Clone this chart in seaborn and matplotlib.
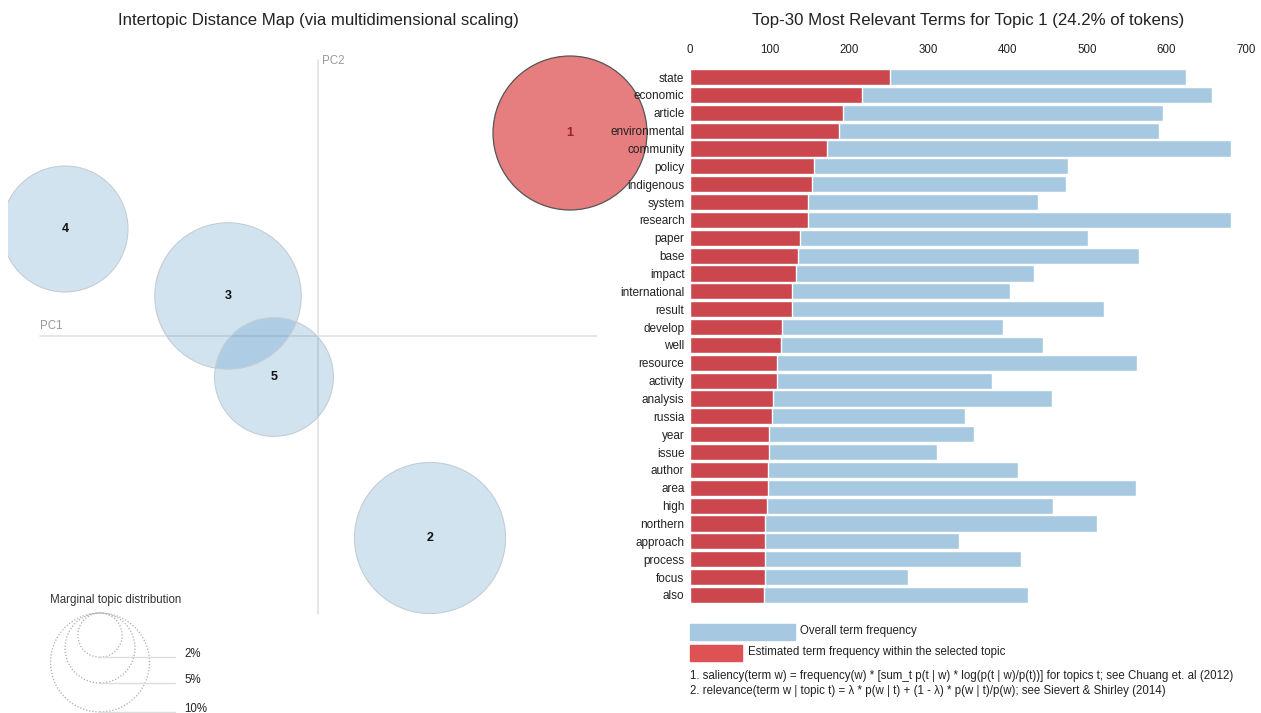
'''
Recreates a pyLDAvis style view: the intertopic distance map on the left
and the top-30 most relevant terms for topic 1 on the right.
'''

import matplotlib
matplotlib.use('Agg')
import numpy as np
import pandas as pd
import matplotlib.pyplot as plt
from matplotlib.patches import Circle, Rectangle
import seaborn as sns

# topic positions on the two principal coordinates, and share of tokens (%)
topics = ['1', '2', '3', '4', '5']
topic_pc1 = [0.252, 0.112, -0.090, -0.253, -0.044]
topic_pc2 = [0.203, -0.202, 0.040, 0.107, -0.041]
topic_share = [24.2, 23.3, 21.9, 16.2, 14.4]
legend_share = [2, 5, 10]

terms = ['state', 'economic', 'article', 'environmental', 'community',
         'policy', 'indigenous', 'system', 'research', 'paper', 'base',
         'impact', 'international', 'result', 'develop', 'well', 'resource',
         'activity', 'analysis', 'russia', 'year', 'issue', 'author', 'area',
         'high', 'northern', 'approach', 'process', 'focus', 'also']
overall_freq = [625, 657, 595, 591, 681, 476, 473, 438, 681, 501, 565, 433,
                403, 521, 394, 444, 563, 380, 456, 346, 357, 311, 413, 562,
                457, 512, 339, 417, 275, 426]
topic_freq = [252, 217, 193, 188, 173, 156, 153, 149, 148, 138, 136, 134,
              128, 128, 116, 114, 110, 109, 104, 103, 100, 99, 98, 98, 97,
              95, 95, 94, 94, 93]

W, H = 1261, 713
BLUE = '#1f77b4'
RED = '#d62728'
BAR_BLUE = '#a6c9e1'
BAR_RED = '#cc474d'
PX_PER_UNIT = 1000      # map scale, pixels per PC unit
ORIGIN = (318, 336)     # pixel position of the PC origin
RADIUS_K = 15.65        # pixels per sqrt(percent)


def fx(x):
    return x / W


def fy(y):
    return 1 - y / H


def to_pc(x, y):
    '''pixel position -> PC coordinates of the map axes'''
    return (x - ORIGIN[0]) / PX_PER_UNIT, (ORIGIN[1] - y) / PX_PER_UNIT


def radius(share):
    return RADIUS_K * np.sqrt(share) / PX_PER_UNIT


def topic_map(fig):
    '''
    Draws the intertopic distance map with the marginal size legend.
    '''
    ax = fig.add_axes([fx(8), 0, fx(680) - fx(8), 673 / H])
    x0, y0 = to_pc(8, 713)
    x1, y1 = to_pc(680, 40)
    ax.set_xlim(x0, x1)
    ax.set_ylim(y0, y1)
    ax.axis('off')

    # principal component axes
    lx0, _ = to_pc(40, 0)
    lx1, _ = to_pc(597, 0)
    _, ly0 = to_pc(0, 60)
    _, ly1 = to_pc(0, 614)
    ax.plot([lx0, lx1], [0, 0], color='#e2e2e2', lw=1.2, zorder=1)
    ax.plot([0, 0], [ly0, ly1], color='#e2e2e2', lw=1.2, zorder=1)
    ax.text(lx0, 0.004, 'PC1', color='#999999', fontsize=8.3, va='bottom')
    ax.text(0.004, ly0 - 0.001, 'PC2', color='#999999', fontsize=8.3,
            va='center')

    df = pd.DataFrame({'topic': topics, 'pc1': topic_pc1, 'pc2': topic_pc2,
                       'share': topic_share})
    for _, row in df.iterrows():
        selected = row['topic'] == '1'
        c = Circle((row['pc1'], row['pc2']), radius(row['share']),
                   facecolor=RED if selected else BLUE,
                   alpha=0.6 if selected else 0.2, lw=0, zorder=2)
        ax.add_patch(c)
        edge = Circle((row['pc1'], row['pc2']), radius(row['share']),
                      fill=False, lw=0.9 if selected else 0.8,
                      edgecolor='#555555' if selected else '#c4cdd4',
                      zorder=3)
        ax.add_patch(edge)
        ax.text(row['pc1'], row['pc2'], row['topic'], ha='center',
                va='center', fontsize=9, fontweight='bold',
                color='#9b2226' if selected else '#111111', zorder=4)

    # marginal topic distribution legend
    fig.text(fx(50), fy(600), 'Marginal topic distribution', fontsize=8.3,
             color='#333333', va='center')
    for share in legend_share:
        r_px = RADIUS_K * np.sqrt(share)
        cx, cy = to_pc(100, 613 + r_px)
        ax.add_patch(Circle((cx, cy), radius(share), fill=False,
                            ls=(0, (1, 1.5)), lw=0.9, edgecolor='#aaaaaa'))
        bx, by = to_pc(100, 613 + 2 * r_px)
        ex, _ = to_pc(175, 0)
        ax.plot([bx, ex], [by, by], color='#dddddd', lw=1)
        lx, _ = to_pc(184, 0)
        ax.text(lx, by + 0.003, f'{share}%', fontsize=8.3, va='center',
                color='#222222')

    fig.text(fx(318), fy(20), 'Intertopic Distance Map '
             '(via multidimensional scaling)', ha='center', va='center',
             fontsize=12.1, color='#222222')


def term_bars(fig):
    '''
    Draws the overall and topic-specific term frequencies as stacked
    horizontal bars.
    '''
    top, bottom = 68.1, 603.9
    ax = fig.add_axes([fx(690), fy(bottom), fx(1246) - fx(690),
                       (bottom - top) / H])
    ax.patch.set_alpha(0)
    df = pd.DataFrame({'term': terms, 'overall': overall_freq,
                       'topic': topic_freq})
    sns.barplot(data=df, x='overall', y='term', color=BAR_BLUE,
                saturation=1, width=0.9, orient='h', ax=ax)
    sns.barplot(data=df, x='topic', y='term', color=BAR_RED,
                saturation=1, width=0.9, orient='h', ax=ax)
    ax.set_xlim(0, 700)
    ax.set_ylim(len(terms) - 0.5, -0.5)
    ax.set_xticks(range(0, 701, 100))
    ax.xaxis.tick_top()
    ax.tick_params(axis='x', length=0, pad=9, labelsize=8.3,
                   colors='#222222')
    ax.tick_params(axis='y', length=0, pad=4, labelsize=8.5,
                   colors='#222222')
    ax.set_xlabel('')
    ax.set_ylabel('')
    sns.despine(ax=ax, left=True, bottom=True)

    fig.text(fx(968), fy(20), 'Top-30 Most Relevant Terms for Topic 1 '
             f'({topic_share[0]}% of tokens)', ha='center', va='center',
             fontsize=12.1, color='#222222')

    # bar legend and footnotes
    fig.add_artist(Rectangle((fx(690), fy(640)), fx(105), 16 / H,
                             transform=fig.transFigure, color=BAR_BLUE))
    fig.add_artist(Rectangle((fx(690), fy(661)), fx(52), 16 / H,
                             transform=fig.transFigure, color='#de5253'))
    fig.text(fx(800), fy(631), 'Overall term frequency', fontsize=8.3,
             va='center', color='#222222')
    fig.text(fx(748), fy(652), 'Estimated term frequency within the '
             'selected topic', fontsize=8.3, va='center', color='#222222')
    fig.text(fx(690), fy(676), '1. saliency(term w) = frequency(w) * '
             '[sum_t p(t | w) * log(p(t | w)/p(t))] for topics t; see '
             'Chuang et. al (2012)', fontsize=8.3, va='center',
             color='#222222')
    fig.text(fx(690), fy(691), '2. relevance(term w | topic t) = \u03bb * '
             'p(w | t) + (1 - \u03bb) * p(w | t)/p(w); see Sievert & '
             'Shirley (2014)', fontsize=8.3, va='center', color='#222222')


def main():
    sns.set_style('white')
    plt.rcParams['font.family'] = ['Liberation Sans', 'DejaVu Sans']
    fig = plt.figure(figsize=(W / 100, H / 100), dpi=100)
    topic_map(fig)
    term_bars(fig)
    fig.savefig('out.png', dpi=100)


if __name__ == '__main__':
    main()
